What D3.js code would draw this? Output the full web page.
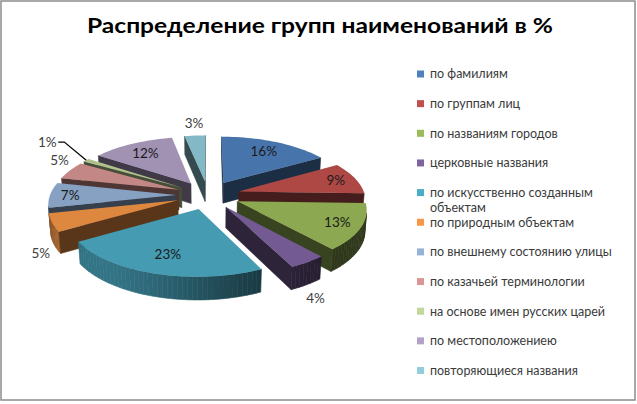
<!DOCTYPE html>
<html><head><meta charset="utf-8">
<script src="https://cdn.jsdelivr.net/npm/d3@7"></script>
<style>body{margin:0;background:#fff}svg{display:block}</style>
</head><body>
<svg id="c" width="637" height="404"></svg>
<script>
const title = "Распределение групп наименований в %";
const categories = ["по фамилиям","по группам лиц","по названиям городов","церковные названия","по искусственно созданным объектам","по природным объектам","по внешнему состоянию улицы","по казачьей терминологии","на основе имен русских царей","по местоположениею","повторяющиеся названия"];
const values = [16, 9, 13, 4, 23, 5, 7, 5, 1, 12, 3];
const valueLabels = ["16%","9%","13%","4%","23%","5%","7%","5%","1%","12%","3%"];
const palette = ["#4F81BD","#C0504D","#9BBB59","#8064A2","#4BACC6","#F79646","#95B3D7","#D99694","#C3D69B","#B3A2C7","#92CDDC"];

const svg = d3.select("#c");
svg.append("rect").attr("x",1).attr("y",1).attr("width",634).attr("height",399)
  .attr("fill","#fff").attr("stroke","#8c8c8c").attr("stroke-width",1.5);

svg.append("text").attr("x",320).attr("y",33).attr("text-anchor","middle")
  .attr("font-family","Lato, 'Open Sans', sans-serif").attr("font-weight","bold")
  .attr("font-size",21.5).attr("fill","#000")
  .attr("textLength",466).attr("lengthAdjust","spacingAndGlyphs").text(title);

const color = d3.scaleOrdinal().domain(categories).range(palette);

// 3D projection of the pie plane
const cx = 208, cy = 195, R = 126, E = 32, DEP = 23, D = 880;
const phi = 26 * Math.PI / 180, sp = Math.sin(phi), cp = Math.cos(phi);
const cam = [0, -D * cp, D * sp];
function proj(px, pz, h) {
  const yc = h * cp + pz * sp;
  const zc = D + pz * cp - h * sp;
  return [cx + D * px / zc, cy - D * yc / zc];
}
const line = d3.line();
function shade(c, f) { const r = d3.rgb(c); return d3.rgb(r.r * f, r.g * f, r.b * f).toString(); }
function visible(n, p) { return n[0]*(cam[0]-p[0]) + n[1]*(cam[1]-p[1]) + n[2]*(cam[2]-p[2]) > 0; }
const lightA = 225 * Math.PI / 180;

const arcs = d3.pie().sort(null).value(d => d)(values);
const slices = arcs.map((a, i) => {
  const m = (a.startAngle + a.endAngle) / 2;
  return { i, a0: a.startAngle, a1: a.endAngle, m, ox: E * Math.sin(m), oz: E * Math.cos(m), c: color(categories[i]) };
});
const order = slices.slice().sort((s, t) => (t.oz + (R/2)*Math.cos(t.m)) - (s.oz + (R/2)*Math.cos(s.m)));

const g = svg.append("g");
order.forEach(s => {
  const sg = g.append("g");
  const steps = Math.max(2, Math.ceil((s.a1 - s.a0) / (2 * Math.PI / 180)));
  const da = (s.a1 - s.a0) / steps;
  const P = (a, r, h) => proj(s.ox + r * Math.sin(a), s.oz + r * Math.cos(a), h);
  // outer wall, shaded per segment
  for (let k = 0; k < steps; k++) {
    const a = s.a0 + k * da, b = a + da, mm = (a + b) / 2;
    const n = [Math.sin(mm), Math.cos(mm), 0];
    const p = [s.ox + R * Math.sin(mm), s.oz + R * Math.cos(mm), -DEP / 2];
    if (!visible(n, p)) continue;
    const l = Math.max(0, Math.cos(mm - lightA));
    const f = 0.3 + 0.38 * l * l;
    const col = shade(s.c, f);
    sg.append("path").attr("d", line([P(a,R,0), P(b,R,0), P(b,R,-DEP), P(a,R,-DEP)]) + "Z")
      .attr("fill", col).attr("stroke", col).attr("stroke-width", 0.6);
  }
  // radial cut faces
  [[s.a0, [-Math.cos(s.a0), Math.sin(s.a0), 0]], [s.a1, [Math.cos(s.a1), -Math.sin(s.a1), 0]]].forEach(([a, n]) => {
    if (!visible(n, [s.ox, s.oz, 0])) return;
    const col = shade(s.c, 0.36);
    sg.append("path").attr("d", line([P(a,0,0), P(a,R,0), P(a,R,-DEP), P(a,0,-DEP)]) + "Z")
      .attr("fill", col).attr("stroke", col).attr("stroke-width", 0.5);
  });
  // top face
  const pts = [P(0, 0, 0)];
  for (let k = 0; k <= steps; k++) pts.push(P(s.a0 + k * da, R, 0));
  sg.append("path").attr("d", line(pts) + "Z").attr("fill", shade(s.c, 0.9));
});

// data labels
const lg = svg.append("g").attr("font-family","Lato, 'Open Sans', sans-serif").attr("font-size",13.5);
slices.forEach(s => {
  const v = values[s.i];
  const sn = Math.sin(s.m), cs = Math.cos(s.m);
  let x, y, fill = "#1a1a1a";
  if (v > 5) {
    const r = E + (0.72 + 0.12 * sn * sn) * R;
    [x, y] = proj(r * sn, r * cs, 0);
  } else if (v >= 2) {
    const r = E + 1.1 * R;
    const front = cs < 0;
    [x, y] = proj(r * sn, r * cs, front ? -DEP : 0);
    y += front ? 7 : -8;
    fill = "#404040";
  } else {
    const r = E + 1.45 * R;
    [x, y] = proj(r * sn, r * cs, 0);
    y -= 7; fill = "#404040";
    const edge = proj((E + R) * sn, (E + R) * cs, 0);
    svg.append("path").attr("d", line([[x + 11, y], [x + 17, y], edge]))
      .attr("fill","none").attr("stroke","#000").attr("stroke-width",1.2);
  }
  lg.append("text").attr("x", x).attr("y", y).attr("dy","0.35em").attr("text-anchor","middle")
    .attr("fill", fill).text(valueLabels[s.i]);
});

// legend
const leg = svg.append("g").attr("font-family","Lato, 'Open Sans', sans-serif").attr("font-size",12.5).attr("fill","#3a3a3a");
const y0 = 74, dy = 29.65, maxW = 195;
categories.forEach((c, i) => {
  const y = y0 + i * dy;
  leg.append("rect").attr("x",417).attr("y",y-3.5).attr("width",7).attr("height",7).attr("fill",color(c));
  const t = leg.append("text").attr("x",430).attr("y",y);
  const words = c.split(" ");
  let lineStr = "", lines = [];
  words.forEach(w => {
    const test = lineStr ? lineStr + " " + w : w;
    t.text(test);
    if (t.node().getComputedTextLength() > maxW && lineStr) { lines.push(lineStr); lineStr = w; }
    else lineStr = test;
  });
  lines.push(lineStr);
  t.text(null);
  lines.forEach((l, j) => t.append("tspan").attr("x",430).attr("dy", j === 0 ? "0.35em" : "1.2em").text(l));
});
</script>
</body></html>
